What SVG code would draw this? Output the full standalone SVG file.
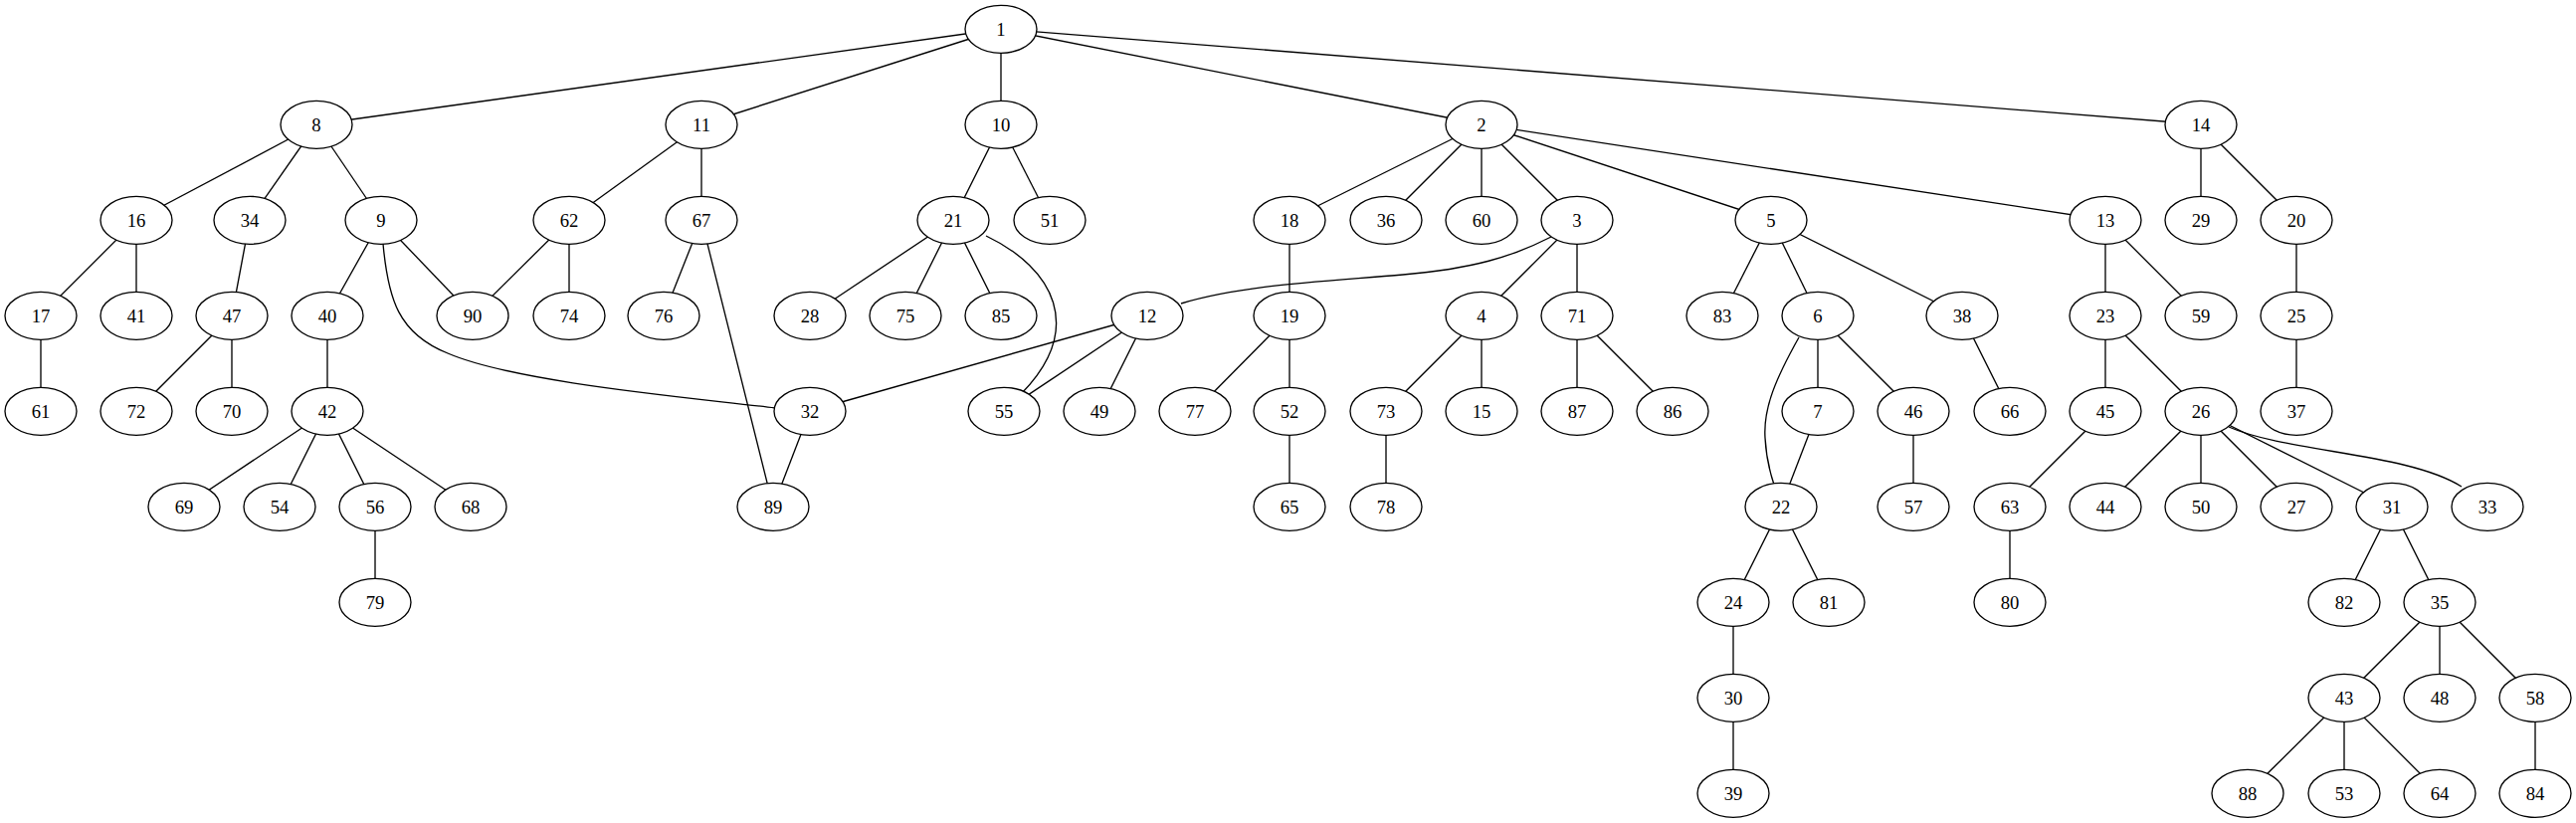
<svg xmlns="http://www.w3.org/2000/svg" width="2589" height="827" viewBox="0 0 2589 827">
<style>
.e{stroke:#000;stroke-width:1.33;fill:none}
.n ellipse{fill:#fff;stroke:#000;stroke-width:1.33}
.n text{font-family:"Liberation Serif","Times New Roman",serif;font-size:18.67px;text-anchor:middle;fill:#000}
</style>
<rect width="2589" height="827" fill="#fff"/>
<g id="edges" class="e">
<path d="M1006,29 L318,125"/>
<path d="M1006,29 L705,125"/>
<path d="M1006,29 L1006,125"/>
<path d="M1006,29 L1489,125"/>
<path d="M1006,29 L2212,125"/>
<path d="M318,125 L137,221"/>
<path d="M318,125 L251,221"/>
<path d="M318,125 L383,221"/>
<path d="M705,125 L572,221"/>
<path d="M705,125 L705,221"/>
<path d="M1006,125 L958,221"/>
<path d="M1006,125 L1055,221"/>
<path d="M1489,125 L1296,221"/>
<path d="M1489,125 L1393,221"/>
<path d="M1489,125 L1489,221"/>
<path d="M1489,125 L1585,221"/>
<path d="M1489,125 L1780,221"/>
<path d="M1489,125 L2116,221"/>
<path d="M2212,125 L2212,221"/>
<path d="M2212,125 L2308,221"/>
<path d="M137,221 L41,317"/>
<path d="M137,221 L137,317"/>
<path d="M251,221 L233,317"/>
<path d="M383,221 L329,317"/>
<path d="M383,221 L475,317"/>
<path d="M385,245 C390,300 400,335 450,355 C520,385 700,400 779,410"/>
<path d="M572,221 L475,317"/>
<path d="M572,221 L572,317"/>
<path d="M705,221 L667,317"/>
<path d="M705,221 L777,509"/>
<path d="M958,221 L814,317"/>
<path d="M958,221 L910,317"/>
<path d="M958,221 L1006,317"/>
<path d="M991,237 C1060,270 1090,330 1027,395"/>
<path d="M1296,221 L1296,317"/>
<path d="M1559,238 C1520,258 1480,270 1410,276 C1330,283 1250,286 1187,305"/>
<path d="M1585,221 L1489,317"/>
<path d="M1585,221 L1585,317"/>
<path d="M1780,221 L1731,317"/>
<path d="M1780,221 L1827,317"/>
<path d="M1780,221 L1972,317"/>
<path d="M2116,221 L2116,317"/>
<path d="M2116,221 L2212,317"/>
<path d="M2308,221 L2308,317"/>
<path d="M41,317 L41,413"/>
<path d="M233,317 L137,413"/>
<path d="M233,317 L233,413"/>
<path d="M329,317 L329,413"/>
<path d="M1153,317 L814,413"/>
<path d="M1153,317 L1009,413"/>
<path d="M1153,317 L1105,413"/>
<path d="M1296,317 L1201,413"/>
<path d="M1296,317 L1296,413"/>
<path d="M1489,317 L1393,413"/>
<path d="M1489,317 L1489,413"/>
<path d="M1585,317 L1585,413"/>
<path d="M1585,317 L1681,413"/>
<path d="M1808,339 C1785,380 1772,410 1774,440 C1775,460 1779,475 1783,487"/>
<path d="M1827,317 L1827,413"/>
<path d="M1827,317 L1923,413"/>
<path d="M1972,317 L2020,413"/>
<path d="M2116,317 L2116,413"/>
<path d="M2116,317 L2212,413"/>
<path d="M2308,317 L2308,413"/>
<path d="M329,413 L185,509"/>
<path d="M329,413 L281,509"/>
<path d="M329,413 L377,509"/>
<path d="M329,413 L473,509"/>
<path d="M814,413 L777,509"/>
<path d="M1296,413 L1296,509"/>
<path d="M1393,413 L1393,509"/>
<path d="M1827,413 L1790,509"/>
<path d="M1923,413 L1923,509"/>
<path d="M2116,413 L2020,509"/>
<path d="M2212,413 L2116,509"/>
<path d="M2212,413 L2212,509"/>
<path d="M2212,413 L2308,509"/>
<path d="M2212,413 L2404,509"/>
<path d="M2240,429 C2300,455 2420,455 2474,489"/>
<path d="M377,509 L377,605"/>
<path d="M1790,509 L1742,605"/>
<path d="M1790,509 L1838,605"/>
<path d="M2020,509 L2020,605"/>
<path d="M2404,509 L2356,605"/>
<path d="M2404,509 L2452,605"/>
<path d="M1742,605 L1742,701"/>
<path d="M2452,605 L2356,701"/>
<path d="M2452,605 L2452,701"/>
<path d="M2452,605 L2548,701"/>
<path d="M1742,701 L1742,797"/>
<path d="M2356,701 L2259,797"/>
<path d="M2356,701 L2356,797"/>
<path d="M2356,701 L2452,797"/>
<path d="M2548,701 L2548,797"/>
</g>
<g id="n1" class="n"><ellipse cx="1006" cy="29.3" rx="36" ry="24"/><text x="1006" y="35.8">1</text></g>
<g id="n8" class="n"><ellipse cx="318" cy="125.3" rx="36" ry="24"/><text x="318" y="131.8">8</text></g>
<g id="n11" class="n"><ellipse cx="705" cy="125.3" rx="36" ry="24"/><text x="705" y="131.8">11</text></g>
<g id="n10" class="n"><ellipse cx="1006" cy="125.3" rx="36" ry="24"/><text x="1006" y="131.8">10</text></g>
<g id="n2" class="n"><ellipse cx="1489" cy="125.3" rx="36" ry="24"/><text x="1489" y="131.8">2</text></g>
<g id="n14" class="n"><ellipse cx="2212" cy="125.3" rx="36" ry="24"/><text x="2212" y="131.8">14</text></g>
<g id="n16" class="n"><ellipse cx="137" cy="221.3" rx="36" ry="24"/><text x="137" y="227.8">16</text></g>
<g id="n34" class="n"><ellipse cx="251" cy="221.3" rx="36" ry="24"/><text x="251" y="227.8">34</text></g>
<g id="n9" class="n"><ellipse cx="383" cy="221.3" rx="36" ry="24"/><text x="383" y="227.8">9</text></g>
<g id="n62" class="n"><ellipse cx="572" cy="221.3" rx="36" ry="24"/><text x="572" y="227.8">62</text></g>
<g id="n67" class="n"><ellipse cx="705" cy="221.3" rx="36" ry="24"/><text x="705" y="227.8">67</text></g>
<g id="n21" class="n"><ellipse cx="958" cy="221.3" rx="36" ry="24"/><text x="958" y="227.8">21</text></g>
<g id="n51" class="n"><ellipse cx="1055" cy="221.3" rx="36" ry="24"/><text x="1055" y="227.8">51</text></g>
<g id="n18" class="n"><ellipse cx="1296" cy="221.3" rx="36" ry="24"/><text x="1296" y="227.8">18</text></g>
<g id="n36" class="n"><ellipse cx="1393" cy="221.3" rx="36" ry="24"/><text x="1393" y="227.8">36</text></g>
<g id="n60" class="n"><ellipse cx="1489" cy="221.3" rx="36" ry="24"/><text x="1489" y="227.8">60</text></g>
<g id="n3" class="n"><ellipse cx="1585" cy="221.3" rx="36" ry="24"/><text x="1585" y="227.8">3</text></g>
<g id="n5" class="n"><ellipse cx="1780" cy="221.3" rx="36" ry="24"/><text x="1780" y="227.8">5</text></g>
<g id="n13" class="n"><ellipse cx="2116" cy="221.3" rx="36" ry="24"/><text x="2116" y="227.8">13</text></g>
<g id="n29" class="n"><ellipse cx="2212" cy="221.3" rx="36" ry="24"/><text x="2212" y="227.8">29</text></g>
<g id="n20" class="n"><ellipse cx="2308" cy="221.3" rx="36" ry="24"/><text x="2308" y="227.8">20</text></g>
<g id="n17" class="n"><ellipse cx="41" cy="317.3" rx="36" ry="24"/><text x="41" y="323.8">17</text></g>
<g id="n41" class="n"><ellipse cx="137" cy="317.3" rx="36" ry="24"/><text x="137" y="323.8">41</text></g>
<g id="n47" class="n"><ellipse cx="233" cy="317.3" rx="36" ry="24"/><text x="233" y="323.8">47</text></g>
<g id="n40" class="n"><ellipse cx="329" cy="317.3" rx="36" ry="24"/><text x="329" y="323.8">40</text></g>
<g id="n90" class="n"><ellipse cx="475" cy="317.3" rx="36" ry="24"/><text x="475" y="323.8">90</text></g>
<g id="n74" class="n"><ellipse cx="572" cy="317.3" rx="36" ry="24"/><text x="572" y="323.8">74</text></g>
<g id="n76" class="n"><ellipse cx="667" cy="317.3" rx="36" ry="24"/><text x="667" y="323.8">76</text></g>
<g id="n28" class="n"><ellipse cx="814" cy="317.3" rx="36" ry="24"/><text x="814" y="323.8">28</text></g>
<g id="n75" class="n"><ellipse cx="910" cy="317.3" rx="36" ry="24"/><text x="910" y="323.8">75</text></g>
<g id="n85" class="n"><ellipse cx="1006" cy="317.3" rx="36" ry="24"/><text x="1006" y="323.8">85</text></g>
<g id="n12" class="n"><ellipse cx="1153" cy="317.3" rx="36" ry="24"/><text x="1153" y="323.8">12</text></g>
<g id="n19" class="n"><ellipse cx="1296" cy="317.3" rx="36" ry="24"/><text x="1296" y="323.8">19</text></g>
<g id="n4" class="n"><ellipse cx="1489" cy="317.3" rx="36" ry="24"/><text x="1489" y="323.8">4</text></g>
<g id="n71" class="n"><ellipse cx="1585" cy="317.3" rx="36" ry="24"/><text x="1585" y="323.8">71</text></g>
<g id="n83" class="n"><ellipse cx="1731" cy="317.3" rx="36" ry="24"/><text x="1731" y="323.8">83</text></g>
<g id="n6" class="n"><ellipse cx="1827" cy="317.3" rx="36" ry="24"/><text x="1827" y="323.8">6</text></g>
<g id="n38" class="n"><ellipse cx="1972" cy="317.3" rx="36" ry="24"/><text x="1972" y="323.8">38</text></g>
<g id="n23" class="n"><ellipse cx="2116" cy="317.3" rx="36" ry="24"/><text x="2116" y="323.8">23</text></g>
<g id="n59" class="n"><ellipse cx="2212" cy="317.3" rx="36" ry="24"/><text x="2212" y="323.8">59</text></g>
<g id="n25" class="n"><ellipse cx="2308" cy="317.3" rx="36" ry="24"/><text x="2308" y="323.8">25</text></g>
<g id="n61" class="n"><ellipse cx="41" cy="413.3" rx="36" ry="24"/><text x="41" y="419.8">61</text></g>
<g id="n72" class="n"><ellipse cx="137" cy="413.3" rx="36" ry="24"/><text x="137" y="419.8">72</text></g>
<g id="n70" class="n"><ellipse cx="233" cy="413.3" rx="36" ry="24"/><text x="233" y="419.8">70</text></g>
<g id="n42" class="n"><ellipse cx="329" cy="413.3" rx="36" ry="24"/><text x="329" y="419.8">42</text></g>
<g id="n32" class="n"><ellipse cx="814" cy="413.3" rx="36" ry="24"/><text x="814" y="419.8">32</text></g>
<g id="n55" class="n"><ellipse cx="1009" cy="413.3" rx="36" ry="24"/><text x="1009" y="419.8">55</text></g>
<g id="n49" class="n"><ellipse cx="1105" cy="413.3" rx="36" ry="24"/><text x="1105" y="419.8">49</text></g>
<g id="n77" class="n"><ellipse cx="1201" cy="413.3" rx="36" ry="24"/><text x="1201" y="419.8">77</text></g>
<g id="n52" class="n"><ellipse cx="1296" cy="413.3" rx="36" ry="24"/><text x="1296" y="419.8">52</text></g>
<g id="n73" class="n"><ellipse cx="1393" cy="413.3" rx="36" ry="24"/><text x="1393" y="419.8">73</text></g>
<g id="n15" class="n"><ellipse cx="1489" cy="413.3" rx="36" ry="24"/><text x="1489" y="419.8">15</text></g>
<g id="n87" class="n"><ellipse cx="1585" cy="413.3" rx="36" ry="24"/><text x="1585" y="419.8">87</text></g>
<g id="n86" class="n"><ellipse cx="1681" cy="413.3" rx="36" ry="24"/><text x="1681" y="419.8">86</text></g>
<g id="n7" class="n"><ellipse cx="1827" cy="413.3" rx="36" ry="24"/><text x="1827" y="419.8">7</text></g>
<g id="n46" class="n"><ellipse cx="1923" cy="413.3" rx="36" ry="24"/><text x="1923" y="419.8">46</text></g>
<g id="n66" class="n"><ellipse cx="2020" cy="413.3" rx="36" ry="24"/><text x="2020" y="419.8">66</text></g>
<g id="n45" class="n"><ellipse cx="2116" cy="413.3" rx="36" ry="24"/><text x="2116" y="419.8">45</text></g>
<g id="n26" class="n"><ellipse cx="2212" cy="413.3" rx="36" ry="24"/><text x="2212" y="419.8">26</text></g>
<g id="n37" class="n"><ellipse cx="2308" cy="413.3" rx="36" ry="24"/><text x="2308" y="419.8">37</text></g>
<g id="n69" class="n"><ellipse cx="185" cy="509.3" rx="36" ry="24"/><text x="185" y="515.8">69</text></g>
<g id="n54" class="n"><ellipse cx="281" cy="509.3" rx="36" ry="24"/><text x="281" y="515.8">54</text></g>
<g id="n56" class="n"><ellipse cx="377" cy="509.3" rx="36" ry="24"/><text x="377" y="515.8">56</text></g>
<g id="n68" class="n"><ellipse cx="473" cy="509.3" rx="36" ry="24"/><text x="473" y="515.8">68</text></g>
<g id="n89" class="n"><ellipse cx="777" cy="509.3" rx="36" ry="24"/><text x="777" y="515.8">89</text></g>
<g id="n65" class="n"><ellipse cx="1296" cy="509.3" rx="36" ry="24"/><text x="1296" y="515.8">65</text></g>
<g id="n78" class="n"><ellipse cx="1393" cy="509.3" rx="36" ry="24"/><text x="1393" y="515.8">78</text></g>
<g id="n22" class="n"><ellipse cx="1790" cy="509.3" rx="36" ry="24"/><text x="1790" y="515.8">22</text></g>
<g id="n57" class="n"><ellipse cx="1923" cy="509.3" rx="36" ry="24"/><text x="1923" y="515.8">57</text></g>
<g id="n63" class="n"><ellipse cx="2020" cy="509.3" rx="36" ry="24"/><text x="2020" y="515.8">63</text></g>
<g id="n44" class="n"><ellipse cx="2116" cy="509.3" rx="36" ry="24"/><text x="2116" y="515.8">44</text></g>
<g id="n50" class="n"><ellipse cx="2212" cy="509.3" rx="36" ry="24"/><text x="2212" y="515.8">50</text></g>
<g id="n27" class="n"><ellipse cx="2308" cy="509.3" rx="36" ry="24"/><text x="2308" y="515.8">27</text></g>
<g id="n31" class="n"><ellipse cx="2404" cy="509.3" rx="36" ry="24"/><text x="2404" y="515.8">31</text></g>
<g id="n33" class="n"><ellipse cx="2500" cy="509.3" rx="36" ry="24"/><text x="2500" y="515.8">33</text></g>
<g id="n79" class="n"><ellipse cx="377" cy="605.3" rx="36" ry="24"/><text x="377" y="611.8">79</text></g>
<g id="n24" class="n"><ellipse cx="1742" cy="605.3" rx="36" ry="24"/><text x="1742" y="611.8">24</text></g>
<g id="n81" class="n"><ellipse cx="1838" cy="605.3" rx="36" ry="24"/><text x="1838" y="611.8">81</text></g>
<g id="n80" class="n"><ellipse cx="2020" cy="605.3" rx="36" ry="24"/><text x="2020" y="611.8">80</text></g>
<g id="n82" class="n"><ellipse cx="2356" cy="605.3" rx="36" ry="24"/><text x="2356" y="611.8">82</text></g>
<g id="n35" class="n"><ellipse cx="2452" cy="605.3" rx="36" ry="24"/><text x="2452" y="611.8">35</text></g>
<g id="n30" class="n"><ellipse cx="1742" cy="701.3" rx="36" ry="24"/><text x="1742" y="707.8">30</text></g>
<g id="n43" class="n"><ellipse cx="2356" cy="701.3" rx="36" ry="24"/><text x="2356" y="707.8">43</text></g>
<g id="n48" class="n"><ellipse cx="2452" cy="701.3" rx="36" ry="24"/><text x="2452" y="707.8">48</text></g>
<g id="n58" class="n"><ellipse cx="2548" cy="701.3" rx="36" ry="24"/><text x="2548" y="707.8">58</text></g>
<g id="n39" class="n"><ellipse cx="1742" cy="797.3" rx="36" ry="24"/><text x="1742" y="803.8">39</text></g>
<g id="n88" class="n"><ellipse cx="2259" cy="797.3" rx="36" ry="24"/><text x="2259" y="803.8">88</text></g>
<g id="n53" class="n"><ellipse cx="2356" cy="797.3" rx="36" ry="24"/><text x="2356" y="803.8">53</text></g>
<g id="n64" class="n"><ellipse cx="2452" cy="797.3" rx="36" ry="24"/><text x="2452" y="803.8">64</text></g>
<g id="n84" class="n"><ellipse cx="2548" cy="797.3" rx="36" ry="24"/><text x="2548" y="803.8">84</text></g>
</svg>
